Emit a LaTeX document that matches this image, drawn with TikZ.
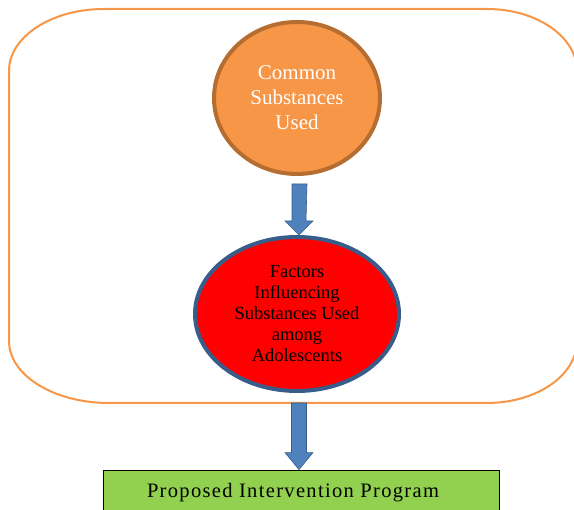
\documentclass[tikz,border=0pt]{standalone}
\usepackage{fontspec}
\setmainfont{Liberation Serif}
\usetikzlibrary{shapes.geometric,calc}
\definecolor{frameor}{HTML}{F79646}
\definecolor{circfill}{HTML}{F79646}
\definecolor{circbord}{HTML}{B66D31}
\definecolor{ellbord}{HTML}{385D8A}
\definecolor{arrfill}{HTML}{4F81BD}
\definecolor{boxgreen}{HTML}{92D050}
\tikzset{
  fatarrow/.style={fill=arrfill,draw=ellbord,line width=0.6pt,line join=miter},
  topcirc/.style={ellipse,fill=circfill,draw=circbord,line width=4pt,minimum width=166pt,minimum height=152pt,inner sep=0pt,text=white,align=center,font=\fontsize{21}{25}\selectfont},
  redell/.style={ellipse,fill=red,draw=ellbord,line width=4pt,minimum width=204pt,minimum height=154pt,inner sep=0pt,text=black,align=center,font=\fontsize{18.5}{21}\selectfont},
  greenbox/.style={rectangle,fill=boxgreen,draw=black,line width=0.8pt,minimum width=396pt,minimum height=45pt,inner sep=0pt,font=\fontsize{20.5}{24}\selectfont\addfontfeatures{LetterSpace=6.5}}
}
\begin{document}
\begin{tikzpicture}[x=1pt,y=1pt]
\useasboundingbox (0,0) rectangle (574,510);
% container frame
\draw[frameor,line width=2pt] (9,169) -- (9,439) arc[start angle=180,end angle=90,x radius=95,y radius=62]
  -- (487,501) arc[start angle=90,end angle=0,x radius=90,y radius=62]
  -- (577,169) arc[start angle=0,end angle=-90,x radius=90,y radius=62]
  -- (109,107) arc[start angle=270,end angle=180,x radius=100,y radius=62] -- cycle;
\coordinate (frameb) at (299,107);
\node[topcirc] (c1) at (297,412) {Common\\Substances\\Used};
\node[redell] (c2) at (297,196) {Factors\\Influencing\\Substances Used\\among\\Adolescents};
\node[greenbox] (box) at (301,17.5) {Proposed Intervention Program\hspace*{16pt}};
% arrow 1
\draw[fatarrow] ($(c1.south)+(-5,-8)$) -- ($(c2.north)+(-5,14)$) -- ($(c2.north)+(-12,14)$)
  -- ($(c2.north)+(2,0)$) -- ($(c2.north)+(16,14)$) -- ($(c2.north)+(9,14)$) -- ($(c1.south)+(10,-8)$) -- cycle;
% arrow 2
\draw[fatarrow] ($(frameb)+(-7.5,0)$) -- ($(box.north)+(-9.5,17)$) -- ($(box.north)+(-16,17)$)
  -- ($(box.north)+(-2,0)$) -- ($(box.north)+(12,17)$) -- ($(box.north)+(5.5,17)$) -- ($(frameb)+(7.5,0)$) -- cycle;
\end{tikzpicture}
\end{document}
